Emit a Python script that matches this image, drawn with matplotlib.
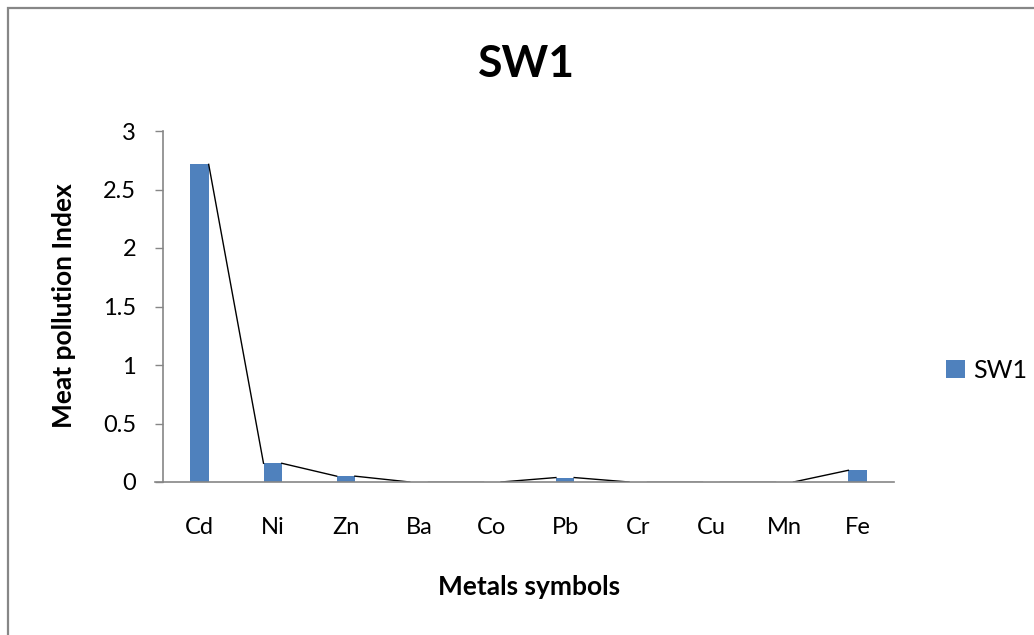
import matplotlib
matplotlib.use("Agg")
import matplotlib.pyplot as plt
from matplotlib.patches import Rectangle, Patch

categories = ["Cd", "Ni", "Zn", "Ba", "Co", "Pb", "Cr", "Cu", "Mn", "Fe"]
sw1_values = [2.715, 0.16, 0.05, 0.0, 0.0, 0.038, 0.0, 0.0, 0.0, 0.10]
yticks = [0, 0.5, 1, 1.5, 2, 2.5, 3]
ytick_labels = ["0", "0.5", "1", "1.5", "2", "2.5", "3"]

W, H = 1034, 635
plt.rcParams['font.family'] = ['Lato', 'DejaVu Sans']
fig = plt.figure(figsize=(W / 100, H / 100), dpi=100)
ax = fig.add_axes([163 / W, 1 - 482 / H, (894 - 163) / W, (482 - 131) / H])

bar_w = 0.25
blue = "#4F81BD"
x = list(range(len(categories)))
ax.bar(x, sw1_values, width=bar_w, color=blue, linewidth=0, zorder=2)

# Excel-style series lines: from the right top corner of one bar to the left top corner of the next
for i in range(len(x) - 1):
    ax.plot([x[i] + bar_w / 2, x[i + 1] - bar_w / 2],
            [sw1_values[i], sw1_values[i + 1]], color="black", lw=1.0, zorder=3)

ax.set_xlim(-0.5, len(categories) - 0.5)
ax.set_ylim(0, 3)
ax.set_yticks(yticks)
ax.set_yticklabels(ytick_labels)
ax.set_xticks(x)
ax.set_xticklabels(categories)

axis_gray = "#868686"
for s in ["top", "right"]:
    ax.spines[s].set_visible(False)
for s in ["left", "bottom"]:
    ax.spines[s].set_color(axis_gray)
    ax.spines[s].set_linewidth(1.2)
    ax.spines[s].set_zorder(5)
ax.tick_params(axis="y", length=5.8, width=1.0, color=axis_gray, pad=13.5, labelsize=17, labelcolor="black")
ax.tick_params(axis="x", length=0, pad=25, labelsize=17, labelcolor="black")

# extend x axis slightly to the left of y axis (like Excel's 0 tick)
ax.plot([-0.5 - 8 / 73.0, -0.5], [0, 0], color=axis_gray, lw=1.2, clip_on=False, zorder=5)

fig.text(526 / W, 1 - 64 / H, "SW1", ha="center", va="center", fontsize=32, fontweight="bold")
fig.text(529 / W, 1 - 587 / H, "Metals symbols", ha="center", va="center", fontsize=19, fontweight="bold")
fig.text(64 / W, 1 - 306 / H, "Meat pollution Index", ha="center", va="center", rotation=90,
         fontsize=19, fontweight="bold")

handle = Patch(facecolor=blue, edgecolor="none")
fig.legend([handle], ["SW1"], loc="center left", bbox_to_anchor=(936 / W, 1 - 370 / H),
           frameon=False, fontsize=18, handlelength=0.75, handleheight=0.75, handletextpad=0.35,
           borderaxespad=0)

# outer chart frame (left/top visible)
fig.patches.append(Rectangle((8 / W, -0.05), 1.1, 1 - 8 / H + 0.05, transform=fig.transFigure,
                             fill=False, edgecolor="#878787", lw=1.6, zorder=0))

fig.savefig("out.png", dpi=100)
